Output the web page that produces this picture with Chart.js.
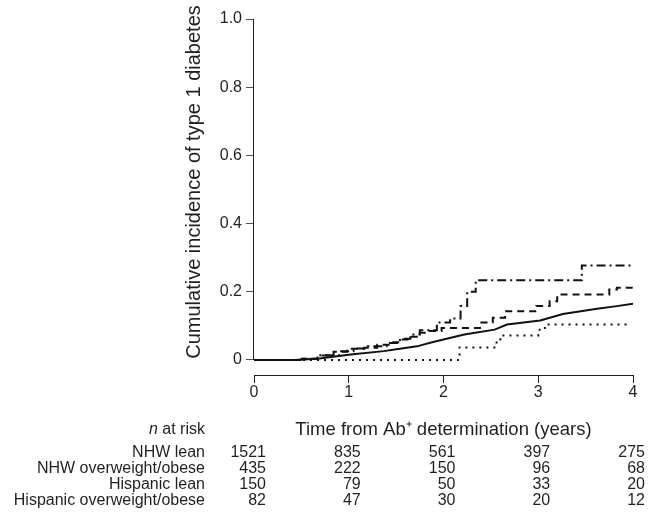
<!DOCTYPE html>
<html>
<head>
<meta charset="utf-8">
<script src="https://cdn.jsdelivr.net/npm/chart.js@4"></script>
<style>
  html, body { margin: 0; padding: 0; background: #fff; }
  #wrap { width: 662px; height: 513px; position: relative; }
</style>
</head>
<body>
<div id="wrap"><canvas id="c" width="662" height="513"></canvas></div>
<script>
// ---- data ----
const groups = ["NHW lean", "NHW overweight/obese", "Hispanic lean", "Hispanic overweight/obese"];
const riskTimes = [0, 1, 2, 3, 4];
const atRiskNHWLean = [1521, 835, 561, 397, 275];
const atRiskNHWOver = [435, 222, 150, 96, 68];
const atRiskHispLean = [150, 79, 50, 33, 20];
const atRiskHispOver = [82, 47, 30, 20, 12];
const yTickValues = [0, 0.2, 0.4, 0.6, 0.8, 1.0];
const yTitle = 'Cumulative incidence of type 1 diabetes';
const xTitle = 'Time from Ab\u207A determination (years)';

// [years, cumulative incidence]
const nhwLean = [[0,0],[0.42,0],[0.67,0.004],[1.02,0.016],[1.37,0.026],[1.54,0.033],[1.72,0.04],[1.88,0.052],[2.22,0.075],[2.54,0.089],[2.67,0.104],[3.02,0.116],[3.26,0.135],[3.62,0.15],[3.83,0.158],[4.0,0.165]];
const nhwOver = [[0,0],[0.49,0.004],[0.67,0.013],[0.84,0.024],[0.98,0.033],[1.16,0.036],[1.3,0.045],[1.44,0.052],[1.54,0.06],[1.65,0.068],[1.75,0.08],[1.85,0.085],[1.98,0.094],[2.4,0.11],[2.52,0.124],[2.65,0.143],[2.98,0.158],[3.12,0.172],[3.2,0.192],[3.75,0.207],[3.83,0.212],[4.0,0.212]];
const hispLean = [[0,0],[2.17,0.037],[2.56,0.06],[2.6,0.072],[3.0,0.089],[3.07,0.104],[3.97,0.104]];
const hispOver = [[0,0],[0.5,0.004],[0.7,0.014],[0.9,0.026],[1.05,0.034],[1.2,0.04],[1.4,0.05],[1.54,0.062],[1.65,0.075],[1.75,0.087],[1.93,0.11],[2.07,0.122],[2.18,0.158],[2.25,0.2],[2.34,0.234],[3.46,0.277],[4.0,0.277]];

const atRiskRows = [atRiskNHWLean, atRiskNHWOver, atRiskHispLean, atRiskHispOver];
const toXY = arr => arr.map(p => ({x: p[0], y: p[1]}));
const FONT = "'Liberation Sans', Arial, Helvetica, sans-serif";
const INK = '#231f20';

const extrasPlugin = {
  id: 'extras',
  afterDraw(chart) {
    const ctx = chart.ctx;
    const xs = chart.scales.x, ys = chart.scales.y;
    ctx.save();
    // detached y-axis line from 0 to 1
    ctx.strokeStyle = INK; ctx.lineWidth = 1;
    ctx.beginPath();
    const lx = Math.round(chart.chartArea.left) - 0.5;
    ctx.moveTo(lx, ys.getPixelForValue(0));
    ctx.lineTo(lx, ys.getPixelForValue(1));
    ctx.stroke();
    // y-axis title
    ctx.fillStyle = INK;
    ctx.save();
    ctx.translate(194, 182);
    ctx.rotate(-Math.PI / 2);
    ctx.font = '20px ' + FONT;
    ctx.textAlign = 'center';
    ctx.textBaseline = 'middle';
    ctx.fillText(yTitle, 0, 0);
    ctx.restore();
    // at-risk table
    ctx.textBaseline = 'middle';
    const labelRight = 205;
    ctx.font = '16px ' + FONT;
    const rest = ' at risk';
    const wRest = ctx.measureText(rest).width;
    ctx.textAlign = 'right';
    ctx.fillText(rest, labelRight, 430);
    ctx.font = 'italic 16px ' + FONT;
    ctx.fillText('n', labelRight - wRest, 430);
    ctx.font = '16px ' + FONT;
    const rowY = [453, 469, 485, 501];
    groups.forEach((g, i) => {
      ctx.textAlign = 'right';
      ctx.fillText(g, labelRight, rowY[i]);
      atRiskRows[i].forEach((v, j) => {
        ctx.fillText(String(v), xs.getPixelForValue(riskTimes[j]) + 12, rowY[i]);
      });
    });
    ctx.restore();
  }
};

const common = { pointRadius: 0, borderColor: '#111', borderWidth: 2, fill: false, tension: 0 };

new Chart(document.getElementById('c'), {
  type: 'line',
  data: {
    datasets: [
      Object.assign({}, common, { label: groups[0], data: toXY(nhwLean) }),
      Object.assign({}, common, { label: groups[1], data: toXY(nhwOver), stepped: 'before', borderDash: [7, 5] }),
      Object.assign({}, common, { label: groups[2], data: toXY(hispLean), stepped: 'before', borderDash: [2, 5] }),
      Object.assign({}, common, { label: groups[3], data: toXY(hispOver), stepped: 'before', borderDash: [9, 4, 2, 4] })
    ]
  },
  options: {
    responsive: false,
    animation: false,
    layout: { padding: { left: 180, right: 29, top: 19, bottom: 72 } },
    plugins: { legend: { display: false }, tooltip: { enabled: false } },
    scales: {
      x: {
        type: 'linear', min: 0, max: 4,
        afterBuildTicks: s => { s.ticks = riskTimes.map(v => ({ value: v })); },
        afterFit: s => { s.height = 66; },
        border: { display: true, color: INK, width: 1 },
        grid: { drawOnChartArea: false, drawTicks: true, tickLength: 8, color: INK },
        ticks: { padding: 0, color: INK, font: { family: FONT, size: 16 }, maxRotation: 0,
                 callback: v => String(v) },
        title: { display: true, text: xTitle, color: INK,
                 font: { family: FONT, size: 18.5 }, padding: { top: 0, bottom: 0 } }
      },
      y: {
        min: -0.044, max: 1,
        afterBuildTicks: s => { s.ticks = yTickValues.map(v => ({ value: v })); },
        afterFit: s => { s.width = 74; },
        border: { display: false },
        grid: { drawOnChartArea: false, drawTicks: true, tickLength: 8, color: '#555' },
        ticks: { padding: 4, color: INK, font: { family: FONT, size: 16 },
                 callback: v => (v === 0 ? '0' : v.toFixed(1)) },
        title: { display: false }
      }
    }
  },
  plugins: [extrasPlugin]
});
</script>
</body>
</html>
